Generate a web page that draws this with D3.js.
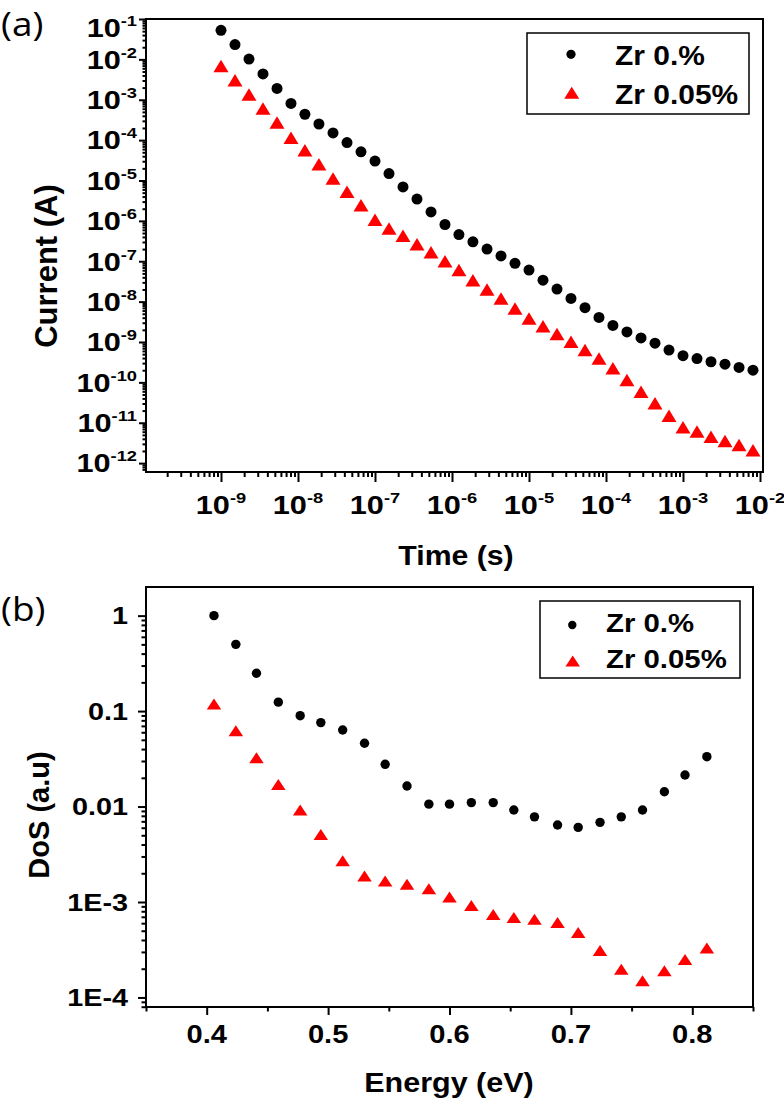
<!DOCTYPE html>
<html><head><meta charset="utf-8">
<script src="https://cdn.jsdelivr.net/npm/d3@7"></script>
<style>
body{margin:0;background:#fff}
svg{display:block}
text{font-family:"Liberation Sans",Arial,sans-serif;font-weight:bold;fill:#000}
</style>
</head><body>
<svg id="c" width="784" height="1101"></svg>
<script>
// ---------- data: panel (a) ----------
const timeS = [1.00e-9,1.52e-9,2.31e-9,3.51e-9,5.34e-9,8.11e-9,1.23e-8,1.87e-8,2.85e-8,4.33e-8,6.58e-8,
  1.00e-7,1.52e-7,2.31e-7,3.51e-7,5.34e-7,8.11e-7,1.23e-6,1.87e-6,2.85e-6,4.33e-6,6.58e-6,
  1.00e-5,1.52e-5,2.31e-5,3.51e-5,5.34e-5,8.11e-5,1.23e-4,1.87e-4,2.85e-4,4.33e-4,6.58e-4,
  1.00e-3,1.52e-3,2.31e-3,3.51e-3,5.34e-3,8.11e-3];
const currentZr0 = [5.25e-2,2.32e-2,1.02e-2,4.37e-3,1.91e-3,8.13e-4,4.37e-4,2.51e-4,1.51e-4,8.71e-5,5.13e-5,
  3.02e-5,1.48e-5,6.92e-6,3.47e-6,1.66e-6,8.13e-7,4.57e-7,3.02e-7,2.0e-7,1.35e-7,8.91e-8,
  6.03e-8,3.39e-8,2.04e-8,1.20e-8,7.08e-9,4.07e-9,2.57e-9,1.78e-9,1.26e-9,9.33e-10,6.31e-10,
  4.57e-10,3.89e-10,3.24e-10,2.82e-10,2.34e-10,2.0e-10];
const currentZr005 = [6.87e-3,3.02e-3,1.35e-3,6.03e-4,2.75e-4,1.15e-4,5.62e-5,2.51e-5,1.12e-5,5.25e-6,2.45e-6,
  1.07e-6,6.46e-7,4.27e-7,2.63e-7,1.66e-7,1.0e-7,6.03e-8,3.39e-8,2.0e-8,1.2e-8,6.76e-9,
  3.8e-9,2.45e-9,1.58e-9,1.02e-9,6.31e-10,3.89e-10,2.24e-10,1.15e-10,5.89e-11,3.02e-11,1.48e-11,
  7.76e-12,6.03e-12,4.47e-12,3.55e-12,2.82e-12,2.09e-12];
const timeTickExps = [-9,-8,-7,-6,-5,-4,-3,-2];
const currentTickExps = [-1,-2,-3,-4,-5,-6,-7,-8,-9,-10,-11,-12];

// ---------- data: panel (b) ----------
const energyEV = [0.406,0.424,0.441,0.459,0.477,0.494,0.512,0.530,0.547,0.565,0.583,0.600,
  0.618,0.636,0.653,0.670,0.689,0.706,0.724,0.7415,0.759,0.777,0.794,0.812];
const dosZr0 = [1.0,0.5,0.249,0.124,0.0895,0.0758,0.0634,0.046,0.0277,0.0164,0.0106,0.0106,
  0.011,0.011,0.0092,0.0078,0.0064,0.00605,0.00683,0.0078,0.0092,0.0143,0.0214,0.0333];
const dosZr005 = [0.119,0.0623,0.0325,0.017,0.0092,0.0051,0.0027,0.00187,0.00166,0.00153,0.00138,0.00113,
  0.00092,0.00074,0.00069,0.00066,0.00061,0.00048,0.00031,0.000197,0.00015,0.00019,0.00025,0.00033];
const energyTicks = [0.4,0.5,0.6,0.7,0.8];
const energyMinorTicks = [0.35,0.45,0.55,0.65,0.75,0.85];
const dosTicks = [1,0.1,0.01,1e-3,1e-4];
const dosTickLabels = ["1","0.1","0.01","1E-3","1E-4"];

const seriesNames = ["Zr 0.%","Zr 0.05%"];
const seriesColors = ["#000000","#ff0000"];

// ---------- helpers ----------
const svg = d3.select("#c");
function stext(g, x, y, s, size, sx, anchor) {
  return g.append("text")
    .attr("transform", `translate(${x},${y}) scale(${sx},1)`)
    .attr("text-anchor", anchor).attr("font-size", size).text(s);
}
function triPath(w, h) {
  return `M0,${-h/2}L${w/2},${h/2}L${-w/2},${h/2}Z`;
}
function isPow10(v) { const l = Math.log10(v); return Math.abs(l - Math.round(l)) < 1e-6; }
function styleAxis(g) {
  g.select(".domain").remove();
  g.selectAll(".tick line").attr("stroke", "#000").attr("stroke-width", 2);
}

// ================= PANEL (a) =================
const A = {l:146, t:19, r:763, b:472};
const xA = d3.scaleLog().domain([Math.pow(10,-9.974), Math.pow(10,-1.961)]).range([A.l, A.r]);
const yA = d3.scaleLog().domain([Math.pow(10,-12.22), 0.1]).range([A.b, A.t]);

const xAll = xA.ticks(40);
const yAll = yA.ticks(60);
const gA = svg.append("g");

gA.append("g").attr("transform",`translate(0,${A.b})`)
  .call(d3.axisBottom(xA).tickValues(xAll.filter(v=>!isPow10(v))).tickSize(5).tickFormat(""))
  .call(styleAxis);
gA.append("g").attr("transform",`translate(0,${A.b})`)
  .call(d3.axisBottom(xA).tickValues(xAll.filter(isPow10)).tickSize(10).tickFormat(""))
  .call(styleAxis);
gA.append("g").attr("transform",`translate(${A.l},0)`)
  .call(d3.axisLeft(yA).tickValues(yAll.filter(v=>!isPow10(v))).tickSize(3.5).tickFormat(""))
  .call(styleAxis);
gA.append("g").attr("transform",`translate(${A.l},0)`)
  .call(d3.axisLeft(yA).tickValues(yAll.filter(isPow10)).tickSize(7).tickFormat(""))
  .call(styleAxis);

function powLabel(g, x, y, exp, anchor) {
  const t = g.append("text")
    .attr("transform", `translate(${x},${y}) scale(1.18,1)`)
    .attr("text-anchor", anchor).attr("font-size", 26);
  t.append("tspan").text("10");
  t.append("tspan").attr("font-size", 15.5).attr("dy", -11).text(String(exp));
}
timeTickExps.forEach(e => powLabel(gA, xA(Math.pow(10,e)), 514, e, "middle"));
currentTickExps.forEach(e => {
  const yc = Math.max(yA(Math.pow(10,e)), 28);
  powLabel(gA, 137, yc + 9.3, e, "end");
});

// marks
gA.append("g").selectAll("circle").data(timeS).join("circle")
  .attr("cx", d => xA(d)).attr("cy", (d,i) => yA(currentZr0[i])).attr("r", 5.5)
  .attr("fill", seriesColors[0]);
gA.append("g").selectAll("path").data(timeS).join("path")
  .attr("d", triPath(15, 12.5))
  .attr("transform", (d,i) => `translate(${xA(d)},${yA(currentZr005[i])})`)
  .attr("fill", seriesColors[1]);

gA.append("rect").attr("x",A.l).attr("y",A.t).attr("width",A.r-A.l).attr("height",A.b-A.t)
  .attr("fill","none").attr("stroke","#000").attr("stroke-width",2);

// titles
stext(gA, 456, 565, "Time (s)", 28, 1.08, "middle");
gA.append("text").attr("transform","translate(57,266) rotate(-90)")
  .attr("text-anchor","middle").attr("font-size",31).text("Current (A)");

// legend
gA.append("rect").attr("x",527).attr("y",33).attr("width",222).attr("height",81)
  .attr("fill","#fff").attr("stroke","#000").attr("stroke-width",1.5);
gA.append("circle").attr("cx",571).attr("cy",54.3).attr("r",4.6).attr("fill",seriesColors[0]);
gA.append("path").attr("d",triPath(15,12)).attr("transform","translate(571.7,92.7)").attr("fill",seriesColors[1]);
stext(gA, 615, 65, seriesNames[0], 28, 1.07, "start");
stext(gA, 615, 104.3, seriesNames[1], 28, 1.07, "start");

// panel label
gA.append("text").attr("transform","translate(1,36) scale(1.12,1)")
  .style("font-family","'Open Sans','Noto Sans',sans-serif").style("font-weight","normal")
  .attr("font-size",33).text("(a)");

// ================= PANEL (b) =================
const B = {l:146, t:587, r:753, b:1007};
const xB = d3.scaleLinear().domain([0.35, 0.85]).range([B.l, B.r]);
const yB = d3.scaleLog().domain([Math.pow(10,-4.10), Math.pow(10,0.30)]).range([B.b, B.t]);
const gB = svg.append("g");

gB.append("g").attr("transform",`translate(0,${B.b})`)
  .call(d3.axisBottom(xB).tickValues(energyMinorTicks).tickSize(4.5).tickFormat(""))
  .call(styleAxis);
gB.append("g").attr("transform",`translate(0,${B.b})`)
  .call(d3.axisBottom(xB).tickValues(energyTicks).tickSize(8).tickFormat(""))
  .call(styleAxis);
const yBAll = yB.ticks(30);
gB.append("g").attr("transform",`translate(${B.l},0)`)
  .call(d3.axisLeft(yB).tickValues(yBAll.filter(v=>!isPow10(v))).tickSize(4.5).tickFormat(""))
  .call(styleAxis);
gB.append("g").attr("transform",`translate(${B.l},0)`)
  .call(d3.axisLeft(yB).tickValues(dosTicks).tickSize(8).tickFormat(""))
  .call(styleAxis);

energyTicks.forEach(v => stext(gB, xB(v), 1043, String(v), 26, 1.12, "middle"));
dosTicks.forEach((v,i) => stext(gB, 128, yB(v) + 8.6, dosTickLabels[i], 24, 1.2, "end"));

gB.append("g").selectAll("circle").data(energyEV).join("circle")
  .attr("cx", d => xB(d)).attr("cy", (d,i) => yB(dosZr0[i])).attr("r", 4.7)
  .attr("fill", seriesColors[0]);
gB.append("g").selectAll("path").data(energyEV).join("path")
  .attr("d", triPath(14.5, 11))
  .attr("transform", (d,i) => `translate(${xB(d)},${yB(dosZr005[i])})`)
  .attr("fill", seriesColors[1]);

gB.append("rect").attr("x",B.l).attr("y",B.t).attr("width",B.r-B.l).attr("height",B.b-B.t)
  .attr("fill","none").attr("stroke","#000").attr("stroke-width",2);

stext(gB, 449, 1092, "Energy (eV)", 27, 1.13, "middle");
gB.append("text").attr("transform","translate(49,815) rotate(-90)")
  .attr("text-anchor","middle").attr("font-size",29).text("DoS (a.u)");

gB.append("rect").attr("x",540).attr("y",601).attr("width",200).attr("height",77)
  .attr("fill","#fff").attr("stroke","#000").attr("stroke-width",1.5);
gB.append("circle").attr("cx",572.3).attr("cy",625).attr("r",4.2).attr("fill",seriesColors[0]);
gB.append("path").attr("d",triPath(14.5,11)).attr("transform","translate(572.7,661)").attr("fill",seriesColors[1]);
stext(gB, 606, 632, seriesNames[0], 26, 1.13, "start");
stext(gB, 606, 667.5, seriesNames[1], 26, 1.13, "start");

gB.append("text").attr("transform","translate(1,621) scale(1.12,1)")
  .style("font-family","'Open Sans','Noto Sans',sans-serif").style("font-weight","normal")
  .attr("font-size",33).text("(b)");
</script>
</body></html>
